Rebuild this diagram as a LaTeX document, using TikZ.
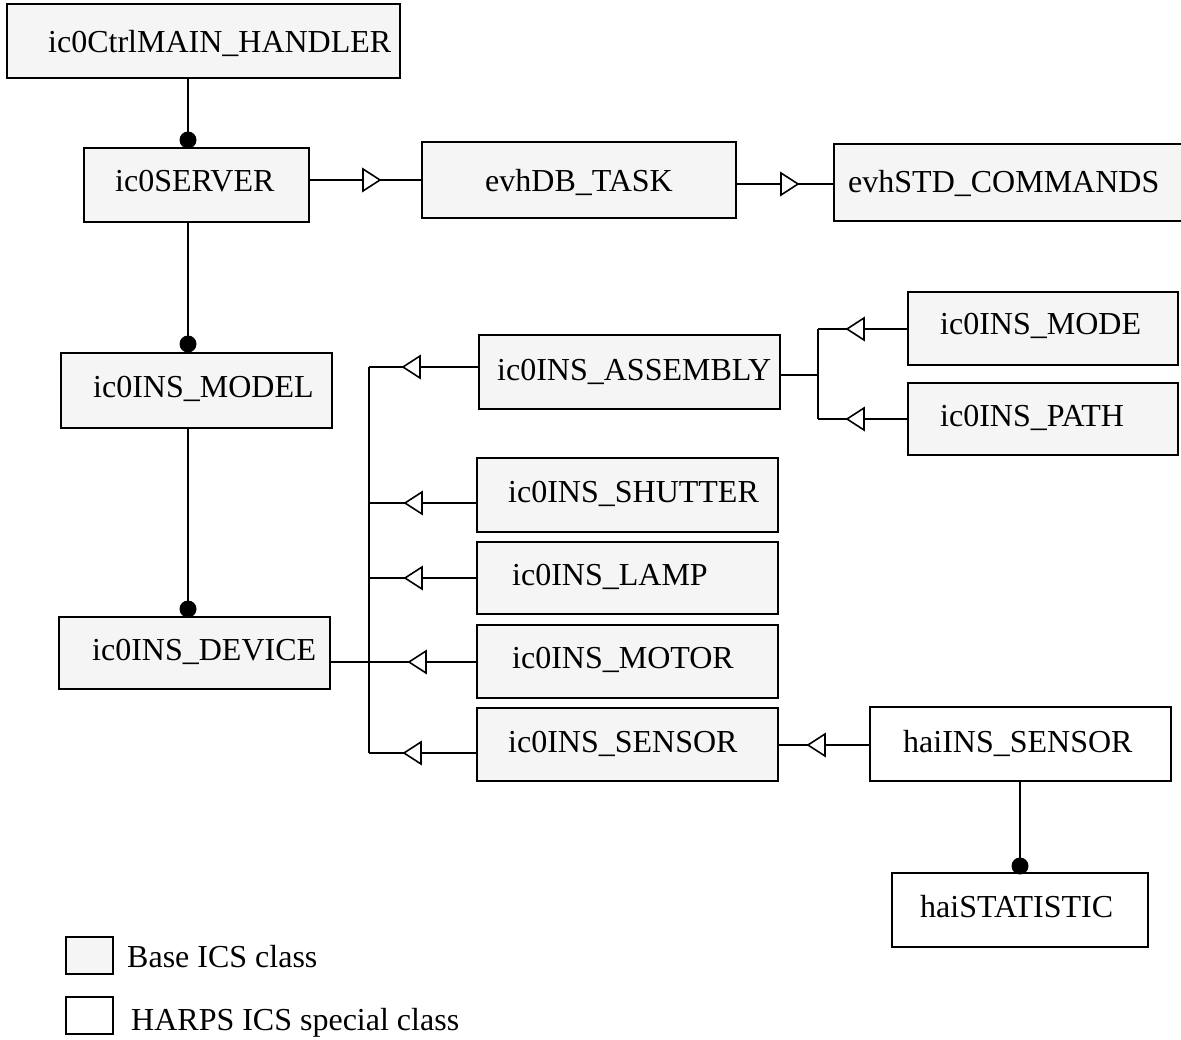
\documentclass[tikz,border=0pt]{standalone}
\usepackage{fontspec}
\setmainfont{Liberation Serif}
\definecolor{basefill}{HTML}{F5F5F5}
\begin{document}
\begin{tikzpicture}[x=1pt,y=-1pt,
  cls/.style={draw, line width=1.8pt, anchor=north west, inner sep=0pt, outer sep=0pt},
  baseclass/.style={cls, fill=basefill},
  harpsclass/.style={cls, fill=white},
  lbl/.style={anchor=base west, inner sep=0pt, font=\fontsize{32}{38}\selectfont},
  link/.style={line width=1.8pt},
  genleft/.pic={\draw[line width=1.6pt, fill=white, line join=miter] (0,0) -- (17,-11) -- (17,11) -- cycle;},
  genright/.pic={\draw[line width=1.6pt, fill=white, line join=miter] (0,0) -- (-17,-11) -- (-17,11) -- cycle;},
  aggdot/.style={fill=black}]
\path[use as bounding box] (0,0) rectangle (1181,1040);

% class boxes
\node[baseclass, minimum width=393pt, minimum height=74pt] (main) at (7,4) {};
\node[baseclass, minimum width=225pt, minimum height=74pt] (server) at (84,148) {};
\node[baseclass, minimum width=314pt, minimum height=76pt] (evhdb) at (422,142) {};
\node[baseclass, minimum width=360pt, minimum height=77pt] (evhstd) at (834,144) {};
\node[baseclass, minimum width=271pt, minimum height=75pt] (model) at (61,353) {};
\node[baseclass, minimum width=271pt, minimum height=72pt] (device) at (59,617) {};
\node[baseclass, minimum width=301pt, minimum height=74pt] (assembly) at (479,335) {};
\node[baseclass, minimum width=270pt, minimum height=73pt] (mode) at (908,292) {};
\node[baseclass, minimum width=270pt, minimum height=72pt] (path) at (908,383) {};
\node[baseclass, minimum width=301pt, minimum height=74pt] (shutter) at (477,458) {};
\node[baseclass, minimum width=301pt, minimum height=72pt] (lamp) at (477,542) {};
\node[baseclass, minimum width=301pt, minimum height=73pt] (motor) at (477,625) {};
\node[baseclass, minimum width=301pt, minimum height=73pt] (sensor) at (477,708) {};
\node[harpsclass, minimum width=301pt, minimum height=74pt] (haisensor) at (870,707) {};
\node[harpsclass, minimum width=256pt, minimum height=74pt] (haistat) at (892,873) {};

% class names
\node[lbl] (tmain) at (48,53) {ic0CtrlMAIN\_HANDLER};
\node[lbl] (tserver) at (115,192) {ic0SERVER};
\node[lbl] (tevhdb) at (485,192) {evhDB\_TASK};
\node[lbl] (tevhstd) at (848,193) {evhSTD\_COMMANDS};
\node[lbl] (tmodel) at (93,398) {ic0INS\_MODEL};
\node[lbl] (tdevice) at (92,660) {ic0INS\_DEVICE};
\node[lbl] (tassembly) at (497,381) {ic0INS\_ASSEMBLY};
\node[lbl] (tmode) at (940,335) {ic0INS\_MODE};
\node[lbl] (tpath) at (940,427) {ic0INS\_PATH};
\node[lbl] (tshutter) at (508,502) {ic0INS\_SHUTTER};
\node[lbl] (tlamp) at (512,585) {ic0INS\_LAMP};
\node[lbl] (tmotor) at (512,668) {ic0INS\_MOTOR};
\node[lbl] (tsensor) at (508,752) {ic0INS\_SENSOR};
\node[lbl] (thaisensor) at (903,752) {haiINS\_SENSOR};
\node[lbl] (thaistat) at (920,917) {haiSTATISTIC};

% aggregation links (filled dot at the part end)
\draw[link] (188,0 |- main.south) -- (188,0 |- server.north);
\fill[aggdot] ([yshift=8pt]188,0 |- server.north) circle (8.5pt);
\draw[link] (188,0 |- server.south) -- (188,0 |- model.north);
\fill[aggdot] ([yshift=9pt]188,0 |- model.north) circle (8.5pt);
\draw[link] (188,0 |- model.south) -- (188,0 |- device.north);
\fill[aggdot] ([yshift=8pt]188,0 |- device.north) circle (8.5pt);
\draw[link] (1020,0 |- haisensor.south) -- (1020,0 |- haistat.north);
\fill[aggdot] ([yshift=7pt]1020,0 |- haistat.north) circle (8.5pt);

% generalisation links
\draw[link] (server.east |- 0,180) -- (evhdb.west |- 0,180);
\pic at (380,180) {genright};
\draw[link] (evhdb.east |- 0,184) -- (evhstd.west |- 0,184);
\pic at (798,184) {genright};

\coordinate (bustop) at (369,367);
\coordinate (busbot) at (369,753);
\draw[link] (bustop) -- (busbot);
\draw[link] (device.east |- 0,662) -- (bustop |- 0,662);
\draw[link] (assembly.west |- bustop) -- (bustop);
\pic at (403,367) {genleft};
\draw[link] (shutter.west |- 0,503) -- (bustop |- 0,503);
\pic at (405,503) {genleft};
\draw[link] (lamp.west |- 0,578) -- (bustop |- 0,578);
\pic at (405,578) {genleft};
\draw[link] (motor.west |- 0,662) -- (bustop |- 0,662);
\pic at (409,662) {genleft};
\draw[link] (sensor.west |- busbot) -- (busbot);
\pic at (404,753) {genleft};

\coordinate (asmtop) at (818,329);
\coordinate (asmbot) at (818,419);
\draw[link] (asmtop) -- (asmbot);
\draw[link] (assembly.east |- 0,375) -- (asmtop |- 0,375);
\draw[link] (mode.west |- asmtop) -- (asmtop);
\pic at (847,329) {genleft};
\draw[link] (path.west |- asmbot) -- (asmbot);
\pic at (847,419) {genleft};

\draw[link] (haisensor.west |- 0,745) -- (sensor.east |- 0,745);
\pic at (808,745) {genleft};

% legend
\node[baseclass, minimum width=47pt, minimum height=37pt] (keybase) at (66,937) {};
\node[harpsclass, minimum width=47pt, minimum height=37pt] (keyharps) at (66,997) {};
\node[lbl] (tkeybase) at (127,967) {Base ICS class};
\node[lbl] (tkeyharps) at (131,1030) {HARPS ICS special class};
\end{tikzpicture}
\end{document}
